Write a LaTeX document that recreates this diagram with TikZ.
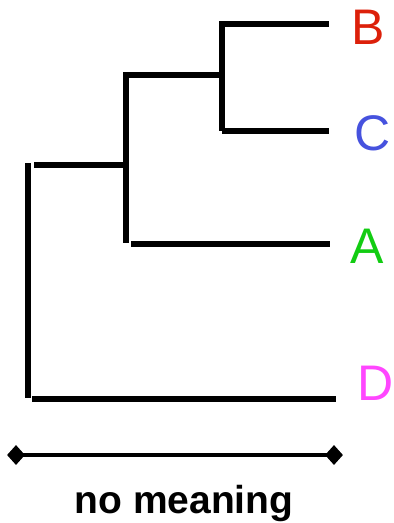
\documentclass[tikz,border=0pt]{standalone}
\usepackage{fontspec}
\setmainfont{Liberation Sans}
\usetikzlibrary{shapes.geometric}
\definecolor{leafB}{RGB}{220,32,10}
\definecolor{leafC}{RGB}{70,82,222}
\definecolor{leafA}{RGB}{18,204,18}
\definecolor{leafD}{RGB}{255,70,255}
\begin{document}
\begin{tikzpicture}[x=1pt,y=-1pt,
  branch/.style={line width=6pt,line cap=butt},
  leaf/.style={inner sep=0pt,anchor=center,font=\fontsize{50}{50}\selectfont},
  tip/.style={diamond,fill=black,inner sep=0pt,minimum width=18pt,minimum height=20pt}]
\useasboundingbox (0,0) rectangle (394,523);

% branch points
\coordinate (r1) at (28,163);
\coordinate (r2) at (28,398);
\coordinate (rA) at (34,165);
\coordinate (rB) at (125,165);
\coordinate (rD1) at (32,399);
\coordinate (rD2) at (336,399);
\coordinate (m1) at (125.5,72);
\coordinate (m2) at (125.5,243);
\coordinate (mA1) at (131,244);
\coordinate (mA2) at (330,244);
\coordinate (mC1) at (128,75);
\coordinate (mC2) at (221.5,75);
\coordinate (n1) at (221.5,21);
\coordinate (n2) at (221.5,131);
\coordinate (nB1) at (222,24);
\coordinate (nB2) at (329,24);
\coordinate (nC1) at (222,131);
\coordinate (nC2) at (329,131);

% tree
\draw[branch] (r1) -- (r2);
\draw[branch] (rA) -- (rB);
\draw[branch] (rD1) -- (rD2);
\draw[branch] (m1) -- (m2);
\draw[branch] (mA1) -- (mA2);
\draw[branch] (mC1) -- (mC2);
\draw[branch] (n1) -- (n2);
\draw[branch] (nB1) -- (nB2);
\draw[branch] (nC1) -- (nC2);

% leaf labels
\node[leaf,text=leafB] (B) at (368,27) {B};
\node[leaf,text=leafC] (C) at (373,133) {C};
\node[leaf,text=leafA] (A) at (367,246) {A};
\node[leaf,text=leafD] (D) at (376,383) {D};

% scale bar
\node[tip] (s1) at (16,455) {};
\node[tip] (s2) at (334,455) {};
\draw[line width=4.5pt] (s1.center) -- (s2.center);
\node[inner sep=0pt,anchor=base,font=\fontsize{39}{39}\selectfont\bfseries] (lbl) at (184,513) {no meaning};
\end{tikzpicture}
\end{document}
